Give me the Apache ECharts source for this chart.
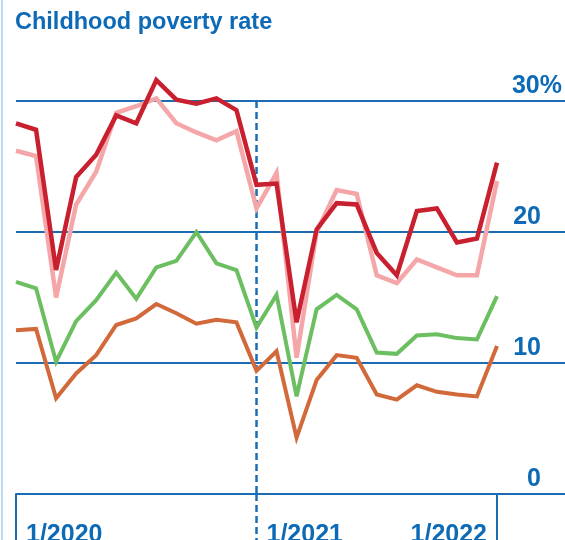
<!DOCTYPE html>
<html>
<head>
<meta charset="utf-8">
<script src="https://cdn.jsdelivr.net/npm/echarts@6/dist/echarts.min.js"></script>
<style>
  html, body { margin: 0; padding: 0; background: #ffffff; }
  #chart { width: 565px; height: 540px; }
</style>
</head>
<body>
<div id="chart"></div>
<script>
// Monthly observations, January 2020 to January 2022
const months = [
  '1/2020', '2/2020', '3/2020', '4/2020', '5/2020', '6/2020', '7/2020', '8/2020',
  '9/2020', '10/2020', '11/2020', '12/2020', '1/2021', '2/2021', '3/2021', '4/2021',
  '5/2021', '6/2021', '7/2021', '8/2021', '9/2021', '10/2021', '11/2021', '12/2021',
  '1/2022'
];

// Childhood poverty rate (%), one array per line
const rateDarkRed = [28.3, 27.8, 17.1, 24.2, 25.9, 28.9, 28.3, 31.6, 30.1, 29.8, 30.2, 29.3,
                     23.6, 23.7, 13.1, 20.2, 22.2, 22.1, 18.4, 16.7, 21.6, 21.8, 19.2, 19.5, 25.3];
const ratePink    = [26.2, 25.8, 15.0, 22.1, 24.6, 29.1, 29.6, 30.2, 28.3, 27.6, 27.0, 27.7,
                     21.8, 24.5, 10.4, 20.0, 23.2, 22.9, 16.7, 16.1, 17.9, 17.3, 16.7, 16.7, 23.9];
const rateGreen   = [16.2, 15.7, 10.1, 13.2, 14.8, 16.9, 14.9, 17.3, 17.8, 20.0, 17.6, 17.1,
                     12.7, 15.2, 7.45, 14.1, 15.2, 14.1, 10.8, 10.7, 12.1, 12.2, 11.9, 11.8, 15.1];
const rateOrange  = [12.5, 12.6, 7.3, 9.2, 10.6, 12.9, 13.4, 14.5, 13.8, 13.0, 13.3, 13.1,
                     9.4, 10.9, 4.3, 8.7, 10.6, 10.4, 7.6, 7.2, 8.3, 7.8, 7.6, 7.45, 11.3];

// Value-axis labels for 0, 10, 20, 30
const yTickLabels = ['0', '10', '20', '30%'];

const TEXT_BLUE = '#0d6ab6';
const RULE_BLUE = '#1b6cb3';
const FONT = '"Liberation Sans", Arial, Helvetica, sans-serif';
const yearStart = 12; // index of 1/2021

const chart = echarts.init(document.getElementById('chart'), null, { renderer: 'canvas' });

function lineSeries(data, color, width, z) {
  return {
    type: 'line',
    data: data,
    xAxisIndex: 0,
    yAxisIndex: 0,
    symbol: 'none',
    clip: false,
    z: z,
    lineStyle: { color: color, width: width, join: 'miter', miterLimit: 4 },
    emphasis: { disabled: true }
  };
}

chart.setOption({
  animation: false,
  title: {
    text: 'Childhood poverty rate',
    left: 15,
    top: 11,
    padding: 0,
    textStyle: { color: TEXT_BLUE, fontFamily: FONT, fontWeight: 'bold', fontSize: 23.5 }
  },
  graphic: [
    { type: 'line', shape: { x1: 2, y1: 0, x2: 2, y2: 540 }, style: { stroke: '#b9dcf3', lineWidth: 2 } }
  ],
  grid: [
    // plotting area for the monthly lines
    { left: 16, right: 68, top: 101, bottom: 46, containLabel: false, outerBoundsMode: 'none' },
    // full-width reference lines and value labels
    { left: 16, right: 0, top: 101, bottom: 46, containLabel: false, outerBoundsMode: 'none' }
  ],
  xAxis: [
    {
      gridIndex: 0,
      type: 'category',
      data: months,
      boundaryGap: false,
      axisLine: { show: false },
      axisTick: {
        show: true,
        length: 46,
        interval: (i) => i === 0 || i === months.length - 1,
        lineStyle: { color: RULE_BLUE, width: 2 }
      },
      axisLabel: {
        interval: (i) => i % 12 === 0,
        align: 'left',
        alignMaxLabel: 'right',
        padding: [0, 10, 0, 10],
        margin: 29,
        color: TEXT_BLUE,
        fontFamily: FONT,
        fontWeight: 'bold',
        fontSize: 25
      },
      splitLine: {
        show: true,
        interval: (i) => i === yearStart,
        lineStyle: { color: RULE_BLUE, width: 2.5, type: [7, 4] }
      }
    },
    {
      gridIndex: 0,
      type: 'category',
      data: months,
      boundaryGap: false,
      position: 'bottom',
      axisLine: { show: false },
      axisLabel: { show: false },
      axisTick: {
        show: true,
        length: 46,
        interval: (i) => i === yearStart,
        lineStyle: { color: RULE_BLUE, width: 2.5, type: [7, 4] }
      },
      splitLine: { show: false }
    },
    {
      gridIndex: 1,
      type: 'value',
      min: 0,
      max: 1,
      position: 'bottom',
      axisLine: { show: true, lineStyle: { color: RULE_BLUE, width: 2 } },
      axisTick: { show: false },
      axisLabel: { show: false },
      splitLine: { show: false }
    }
  ],
  yAxis: [
    { gridIndex: 0, type: 'value', min: 0, max: 30, show: false },
    {
      gridIndex: 1,
      type: 'value',
      min: 0,
      max: 30,
      interval: 10,
      position: 'right',
      axisLine: { show: false },
      axisTick: { show: false },
      splitLine: { show: true, lineStyle: { color: RULE_BLUE, width: 2 } },
      axisLabel: {
        inside: true,
        margin: 3,
        verticalAlign: 'bottom',
        formatter: (v) => {
          const s = yTickLabels[Math.round(v / 10)];
          return s.indexOf('%') >= 0 ? '{p|' + s + '}' : '{n|' + s + '}';
        },
        rich: {
          p: { color: TEXT_BLUE, fontFamily: FONT, fontWeight: 'bold', fontSize: 25, padding: [0, 0, 2, 0] },
          n: { color: TEXT_BLUE, fontFamily: FONT, fontWeight: 'bold', fontSize: 25, padding: [0, 21, 2, 0] }
        }
      }
    }
  ],
  series: [
    lineSeries(rateOrange, '#d2693a', 4, 3),
    lineSeries(rateGreen, '#6cbf60', 4, 4),
    lineSeries(ratePink, '#f5a6a8', 4.5, 5),
    lineSeries(rateDarkRed, '#c9202f', 4.5, 6)
  ]
});
</script>
</body>
</html>
